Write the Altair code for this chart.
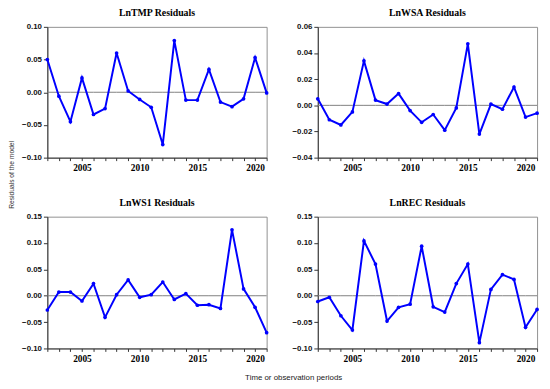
import altair as alt
import pandas as pd

years = list(range(2002, 2022))

tmp_vals = [0.050, -0.006, -0.045, 0.022, -0.034, -0.025, 0.060, 0.002, -0.011, -0.023,
            -0.080, 0.079, -0.012, -0.012, 0.035, -0.015, -0.022, -0.010, 0.053, -0.001]
wsa_vals = [0.005, -0.011, -0.015, -0.005, 0.034, 0.004, 0.001, 0.009, -0.004, -0.013,
            -0.007, -0.019, -0.002, 0.047, -0.022, 0.001, -0.003, 0.014, -0.009, -0.006]
ws1_vals = [-0.027, 0.007, 0.007, -0.010, 0.023, -0.041, 0.002, 0.030, -0.003, 0.002,
            0.026, -0.007, 0.004, -0.018, -0.017, -0.024, 0.125, 0.013, -0.022, -0.070]
rec_vals = [-0.011, -0.003, -0.038, -0.065, 0.104, 0.060, -0.048, -0.022, -0.016, 0.094,
            -0.021, -0.031, 0.023, 0.060, -0.089, 0.012, 0.040, 0.031, -0.060, -0.026]

titles = ["LnTMP Residuals", "LnWSA Residuals", "LnWS1 Residuals", "LnREC Residuals"]

tmp_ticks = [-0.10, -0.05, 0.00, 0.05, 0.10]
wsa_ticks = [-0.04, -0.02, 0.00, 0.02, 0.04, 0.06]
ws1_ticks = [-0.10, -0.05, 0.00, 0.05, 0.10, 0.15]
rec_ticks = [-0.10, -0.05, 0.00, 0.05, 0.10, 0.15]

y_title = "Residuals of the model"
x_title = "Time or observation periods"

W = 223
H_TOP = 133
H_BOTTOM = 134


def panel(title, vals, ticks, height, ytitle=None, xtitle=None):
    df = pd.DataFrame({"year": years, "value": vals, "z": [0.0] * len(years)})
    xaxis = dict(
        values=years,
        labelExpr="datum.value % 5 == 0 ? datum.label : ''",
        format="d", grid=False, tickSize=3, labelPadding=2,
        labelFont="Liberation Serif", labelFontSize=9.5, labelFontWeight="bold",
        labelColor="black", domainColor="#333", tickColor="#333",
        labelOverlap=False, labelFlush=False, title=None,
    )
    if xtitle:
        xaxis.update(title=xtitle, titleFont="Liberation Sans", titleFontSize=8,
                     titleFontWeight="normal", titleColor="#222",
                     titleX=250, titleY=26, titleAnchor="middle")
    yaxis = dict(
        values=ticks, format=".2f", grid=False, tickSize=4, labelPadding=2,
        labelFont="Liberation Sans", labelFontSize=8, labelFontWeight="bold",
        labelColor="#111", domainColor="#333", tickColor="#333", title=None,
        labelOverlap=False, labelFlush=False,
    )
    if ytitle:
        yaxis.update(title=ytitle, titleFont="Liberation Sans", titleFontSize=6.8,
                     titleFontWeight="normal", titleColor="#333",
                     titleX=-33, titleY=150, titleAngle=270)
    xenc = alt.X("year:Q", scale=alt.Scale(domain=[2002, 2021], nice=False, zero=False),
                 axis=alt.Axis(**xaxis))
    yscale = alt.Scale(domain=[ticks[0], ticks[-1]], nice=False, zero=False)
    base = alt.Chart(df)
    zero = base.mark_line(color="#808080", strokeWidth=1).encode(
        x=xenc, y=alt.Y("z:Q", scale=yscale, axis=alt.Axis(**yaxis)))
    line = base.mark_line(
        color="#0000FF", strokeWidth=2,
        point=alt.OverlayMarkDef(color="#0000FF", size=14, filled=True, opacity=1),
    ).encode(
        x=xenc,
        y=alt.Y("value:Q", scale=yscale, axis=alt.Axis(**yaxis)),
    )
    return alt.layer(zero, line).properties(
        width=W, height=height,
        title=alt.TitleParams(title, font="Liberation Serif", fontSize=10,
                              fontWeight="bold", color="black", offset=5),
    )


p1 = panel(titles[0], tmp_vals, tmp_ticks, H_TOP, ytitle=y_title)
p2 = panel(titles[1], wsa_vals, wsa_ticks, H_TOP)
p3 = panel(titles[2], ws1_vals, ws1_ticks, H_BOTTOM, xtitle=x_title)
p4 = panel(titles[3], rec_vals, rec_ticks, H_BOTTOM)

chart = alt.concat(p1, p2, p3, p4, columns=2,
                   spacing={"row": 60, "column": 52}, bounds="flush").properties(
    padding={"top": -4, "left": 0, "right": 0, "bottom": 0}, background="white"
).configure_view(stroke="#909090", strokeWidth=1)

chart.save("out.html", embed_options={"renderer": "svg", "actions": False})
